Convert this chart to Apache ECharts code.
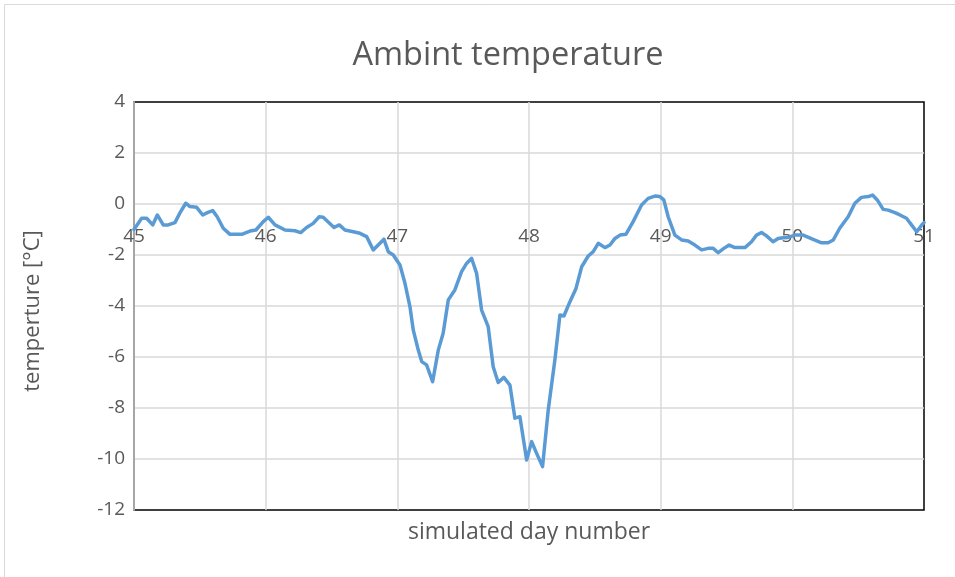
<!DOCTYPE html>
<html>
<head>
<meta charset="utf-8">
<script src="https://cdn.jsdelivr.net/npm/echarts@6/dist/echarts.min.js"></script>
<style>
  html, body { margin: 0; padding: 0; background: #fff; }
  #chart { width: 955px; height: 577px; }
</style>
</head>
<body>
<div id="chart"></div>
<script>
// Simulated day number (x) and ambient temperature in °C (y)
const dayValues = [
  45.0, 45.058, 45.096, 45.142, 45.177, 45.222, 45.26, 45.311, 45.349, 45.393,
  45.425, 45.476, 45.522, 45.557, 45.598, 45.632, 45.678, 45.729, 45.818, 45.881,
  45.926, 45.982, 46.02, 46.071, 46.147, 46.222, 46.266, 46.311, 46.361, 46.407,
  46.437, 46.519, 46.559, 46.602, 46.665, 46.716, 46.767, 46.817, 46.898, 46.931,
  46.969, 47.02, 47.058, 47.096, 47.121, 47.159, 47.185, 47.222, 47.268, 47.311,
  47.348, 47.387, 47.437, 47.488, 47.526, 47.564, 47.602, 47.64, 47.69, 47.728,
  47.766, 47.809, 47.855, 47.893, 47.931, 47.982, 48.02, 48.058, 48.103, 48.146,
  48.197, 48.235, 48.265, 48.311, 48.357, 48.4, 48.45, 48.488, 48.526, 48.577,
  48.615, 48.653, 48.691, 48.736, 48.791, 48.855, 48.905, 48.956, 48.994, 49.024,
  49.057, 49.108, 49.159, 49.209, 49.26, 49.311, 49.361, 49.399, 49.437, 49.48,
  49.52, 49.564, 49.64, 49.69, 49.728, 49.766, 49.804, 49.854, 49.892, 49.93,
  49.968, 50.019, 50.082, 50.158, 50.222, 50.272, 50.311, 50.36, 50.424, 50.475,
  50.525, 50.576, 50.609, 50.645, 50.69, 50.728, 50.779, 50.817, 50.867, 50.905,
  50.945, 50.983, 51.0
];
const tempValues = [
  -1.0, -0.56, -0.56, -0.82, -0.43, -0.82, -0.82, -0.73, -0.35, 0.03,
  -0.1, -0.13, -0.43, -0.34, -0.26, -0.5, -0.95, -1.19, -1.19, -1.06,
  -1.02, -0.69, -0.52, -0.82, -1.02, -1.05, -1.12, -0.92, -0.76, -0.5,
  -0.52, -0.92, -0.82, -1.02, -1.09, -1.15, -1.28, -1.8, -1.38, -1.87,
  -2.0, -2.39, -3.11, -4.03, -4.94, -5.73, -6.18, -6.31, -6.97, -5.73,
  -5.07, -3.76, -3.37, -2.65, -2.33, -2.13, -2.72, -4.16, -4.81, -6.38,
  -7.0, -6.8, -7.1, -8.4, -8.34, -10.04, -9.32, -9.78, -10.3, -8.08,
  -6.1, -4.35, -4.39, -3.83, -3.31, -2.46, -2.04, -1.87, -1.54, -1.71,
  -1.61, -1.35, -1.22, -1.19, -0.69, -0.04, 0.22, 0.31, 0.29, 0.16,
  -0.5, -1.22, -1.41, -1.45, -1.61, -1.8, -1.74, -1.74, -1.91, -1.74,
  -1.61, -1.71, -1.71, -1.48, -1.22, -1.12, -1.25, -1.48, -1.35, -1.32,
  -1.31, -1.22, -1.22, -1.39, -1.52, -1.52, -1.41, -0.95, -0.5, 0.03,
  0.26, 0.29, 0.35, 0.16, -0.21, -0.24, -0.34, -0.43, -0.56, -0.82,
  -1.09, -0.82, -0.73
];

const chartTitle = 'Ambint temperature';
const xAxisTitle = 'simulated day number';
const yAxisTitle = 'temperture [°C]';

const font = '"Open Sans", "Noto Sans", sans-serif';
const textGray = '#595959';
const gridGray = '#d9d9d9';

const points = dayValues.map((d, i) => [d, tempValues[i]]);

const chart = echarts.init(document.getElementById('chart'), null, { renderer: 'canvas' });
chart.setOption({
  animation: false,
  backgroundColor: '#ffffff',
  graphic: [{
    type: 'rect',
    shape: { x: 4.5, y: 4.5, width: 960, height: 580 },
    style: { fill: 'none', stroke: '#d9d9d9', lineWidth: 1 },
    silent: true
  }],
  title: [
    {
      text: chartTitle,
      left: 503, top: 34, textAlign: 'center',
      textStyle: { fontFamily: font, fontSize: 32.5, fontWeight: 'normal', color: textGray }
    },
    {
      text: xAxisTitle,
      left: 524, top: 516, textAlign: 'center',
      textStyle: { fontFamily: font, fontSize: 23, fontWeight: 'normal', color: textGray }
    }
  ],
  grid: {
    left: 134, right: 31, top: 102, bottom: 67,
    show: true, borderColor: '#000', borderWidth: 1.5, backgroundColor: 'transparent'
  },
  xAxis: {
    type: 'value',
    min: 45, max: 51, interval: 1,
    axisLine: { show: false, onZero: false },
    axisTick: { show: false },
    // tick labels sit just under the zero line, as with an axis crossing at 0
    axisLabel: { margin: -283, fontFamily: font, fontSize: 19, color: textGray },
    splitLine: { show: true, showMinLine: false, showMaxLine: false, lineStyle: { color: gridGray, width: 1.5 } }
  },
  yAxis: {
    type: 'value',
    min: -12, max: 4, interval: 2,
    name: yAxisTitle, nameLocation: 'middle', nameGap: 90, nameRotate: 90,
    nameTextStyle: { fontFamily: font, fontSize: 22, color: textGray, padding: [0, 10, 0, 0] },
    axisLine: { show: true, lineStyle: { color: '#a6a6a6', width: 2 } },
    axisTick: { show: false },
    axisLabel: { margin: 9, fontFamily: font, fontSize: 19, color: textGray },
    splitLine: { show: true, showMinLine: false, showMaxLine: false, lineStyle: { color: gridGray, width: 1.5 } }
  },
  series: [{
    type: 'line',
    data: points,
    showSymbol: false,
    smooth: false,
    lineStyle: { color: '#5b9bd5', width: 3.5, join: 'round', cap: 'round' },
    z: 3
  }]
});
</script>
</body>
</html>
